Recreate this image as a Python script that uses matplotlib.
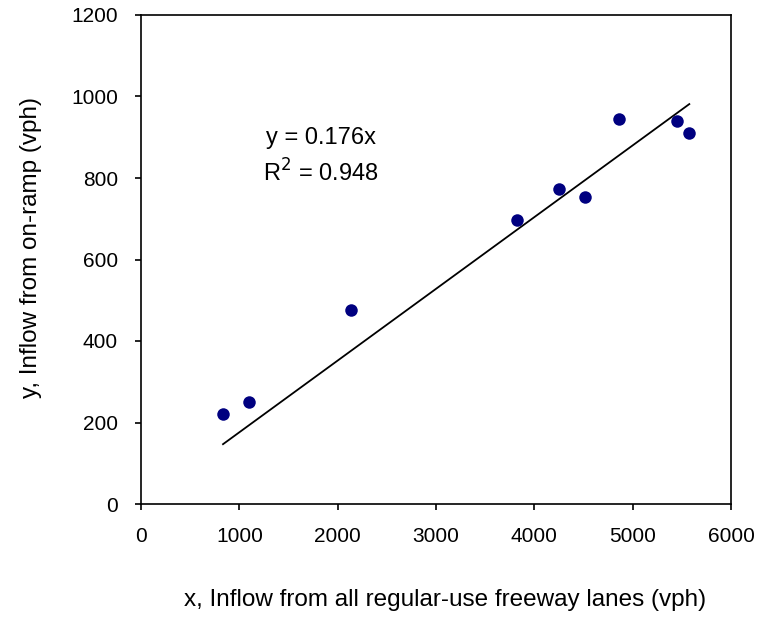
import matplotlib
matplotlib.use("Agg")
import matplotlib.pyplot as plt
import numpy as np

plt.rcParams['font.family'] = ['Liberation Sans', 'DejaVu Sans']

x_vals = [834, 1098, 2139, 3827, 4254, 4515, 4864, 5454, 5576]
y_vals = [222, 251, 477, 698, 772, 753, 944, 939, 910]
slope = 0.176
r2 = 0.948
x_ticks = [0, 1000, 2000, 3000, 4000, 5000, 6000]
y_ticks = [0, 200, 400, 600, 800, 1000, 1200]

fig = plt.figure(figsize=(7.58, 6.22), dpi=100)
ax = fig.add_axes([141/758, 1 - 504/622, 590/758, 489/622])

ax.scatter(x_vals, y_vals, s=9**2, color='#000080', zorder=3, linewidths=0)
xl = np.array([min(x_vals), max(x_vals)])
ax.plot(xl, slope * xl, color='black', linewidth=1.3, zorder=2)

ax.set_xlim(0, 6000)
ax.set_ylim(0, 1200)
ax.set_xticks(x_ticks)
ax.set_yticks(y_ticks)
ax.tick_params(direction='out', length=4.5, width=1.2, labelsize=15)
ax.tick_params(axis='x', pad=12)
ax.tick_params(axis='y', pad=12)
for s in ax.spines.values():
    s.set_linewidth(1.2)

ax.set_xlabel('x, Inflow from all regular-use freeway lanes (vph)', fontsize=17.5)
ax.set_ylabel('y, Inflow from on-ramp (vph)', fontsize=17.5)
ax.xaxis.set_label_coords((445 - 141) / 590, (504 - 589) / 489)
ax.yaxis.set_label_coords((42 - 141) / 590, (504 - 248) / 489)

ax.text(0.305, 0.748, f'y = {slope}x', transform=ax.transAxes, ha='center', va='center', fontsize=17)
ax.text(0.305, 0.677, r'R$^2$ = ' + f'{r2}', transform=ax.transAxes, ha='center', va='center', fontsize=17)

fig.savefig('out.png', dpi=100)
